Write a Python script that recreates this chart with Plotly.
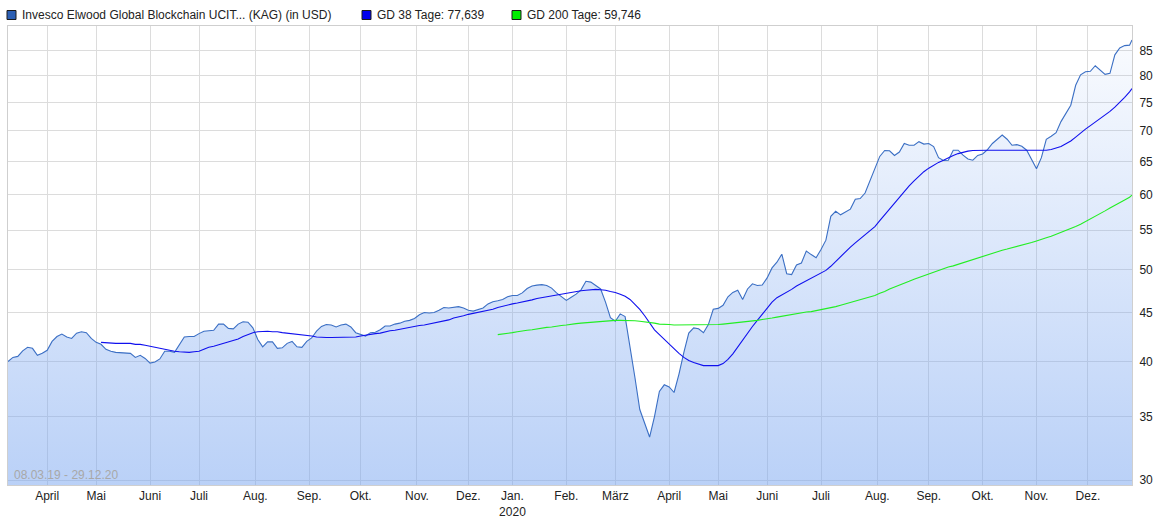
import math
import pandas as pd
import plotly.graph_objects as go

START = "2019-03-08"
END = "2020-12-29"
# exchange holidays (no prices on those days)
HOLIDAYS = ["2019-04-19", "2019-04-22", "2019-05-01", "2019-12-24", "2019-12-25",
            "2019-12-26", "2019-12-31", "2020-01-01", "2020-04-10", "2020-04-13",
            "2020-05-01", "2020-12-24", "2020-12-25"]

TRADING_DAYS = pd.bdate_range(START, END, freq="C", holidays=HOLIDAYS)
# one value read every second trading day, plus the last day
DATES = TRADING_DAYS[::2].append(TRADING_DAYS[-1:])

PRICE = [
    40.0, 40.4, 40.5, 41.05, 41.4, 41.3, 40.6, 40.8, 41.1, 42.0,
    42.5, 42.75, 42.45, 42.3, 42.85, 43.0, 42.9, 42.3, 41.9, 41.7,
    41.2, 41.0, 40.9, 40.85, 40.8, 40.8, 40.4, 40.6, 40.3, 39.85,
    39.95, 40.25, 41.0, 41.0, 40.9, 41.7, 42.45, 42.5, 42.5, 42.8,
    43.05, 43.1, 43.15, 43.8, 43.8, 43.35, 43.3, 43.8, 44.05, 44.0,
    43.4, 42.2, 41.45, 41.95, 41.95, 41.3, 41.35, 41.8, 42.0, 41.45,
    41.4, 42.0, 42.35, 43.05, 43.55, 43.75, 43.7, 43.5, 43.7, 43.8,
    43.5, 42.9, 42.7, 42.55, 42.9, 42.95, 43.2, 43.6, 43.6, 43.8,
    43.9, 44.1, 44.2, 44.4, 44.8, 45.05, 45.0, 45.05, 45.3, 45.6,
    45.55, 45.6, 45.7, 45.55, 45.3, 45.2, 45.35, 45.55, 46.0, 46.25,
    46.35, 46.5, 46.8, 46.95, 46.95, 47.25, 47.75, 48.05, 48.15, 48.2,
    48.1, 47.8, 47.25, 46.85, 46.4, 46.75, 47.1, 47.6, 48.6, 48.5,
    48.1, 47.7, 46.2, 44.5, 44.1, 44.9, 44.6, 41.2, 38.5, 35.6,
    34.5, 33.3, 35.0, 37.2, 37.8, 37.6, 37.1, 38.8, 40.9, 42.85,
    43.4, 43.3, 42.9, 43.75, 45.4, 45.5, 45.85, 46.8, 47.3, 47.55,
    46.5, 47.7, 48.3, 48.1, 48.15, 49.0, 50.2, 50.9, 51.9, 49.5,
    49.4, 50.55, 50.8, 52.3, 51.85, 51.45, 52.5, 53.7, 56.9, 57.6,
    57.1, 57.5, 57.9, 59.3, 59.4, 60.2, 62.0, 64.0, 65.8, 66.75,
    66.7, 65.95, 66.5, 67.9, 67.6, 67.6, 68.2, 67.8, 67.9, 67.4,
    65.6, 65.15, 65.2, 66.8, 66.8, 66.0, 65.4, 65.2, 65.95, 66.2,
    66.9, 67.9, 68.6, 69.3, 68.6, 67.6, 67.7, 67.45, 66.8, 65.4,
    63.85, 65.6, 68.6, 69.1, 69.7, 71.6, 73.0, 74.5, 78.2, 80.2,
    80.8, 80.9, 82.0, 81.1, 80.3, 80.5, 84.2, 85.6, 86.1, 86.2,
    87.3,
]

GD38 = [None] * 19 + [
    41.9,
    41.85, 41.8, 41.8, 41.8, 41.8, 41.8, 41.7, 41.7, 41.6, 41.5,
    41.35, 41.25, 41.15, 41.05, 41.0, 40.95, 40.9, 40.9, 40.95, 41.0,
    41.2, 41.4, 41.5, 41.65, 41.8, 41.9, 42.05, 42.25, 42.5, 42.7,
    42.9, 43.0, 43.05, 43.05, 43.0, 43.0, 42.9, 42.85, 42.8, 42.7,
    42.65, 42.6, 42.55, 42.45, 42.4, 42.4, 42.4, 42.4, 42.4, 42.4,
    42.4, 42.45, 42.55, 42.65, 42.7, 42.8, 42.85, 43.0, 43.1, 43.15,
    43.25, 43.4, 43.5, 43.55, 43.65, 43.7, 43.8, 43.9, 44.0, 44.1,
    44.25, 44.45, 44.55, 44.7, 44.85, 44.95, 45.05, 45.2, 45.3, 45.4,
    45.6, 45.75, 45.9, 46.0, 46.1, 46.2, 46.3, 46.45, 46.6, 46.7,
    46.8, 46.95, 47.05, 47.15, 47.25, 47.35, 47.45, 47.5, 47.55, 47.6,
    47.65, 47.6, 47.55, 47.4, 47.3, 47.1, 46.85, 46.5, 46.0, 45.4,
    44.7, 43.9, 43.2, 42.7, 42.2, 41.7, 41.2, 40.8, 40.4, 40.1,
    39.9, 39.75, 39.6, 39.6, 39.6, 39.6, 39.8, 40.2, 40.75, 41.45,
    42.15, 42.8, 43.55, 44.2, 44.9, 45.6, 46.2, 46.7, 47.0, 47.3,
    47.65, 48.05, 48.35, 48.65, 49.0, 49.3, 49.6, 49.9, 50.4, 51.0,
    51.65, 52.25, 52.8, 53.35, 53.9, 54.5, 54.95, 55.5, 56.3, 57.1,
    57.95, 58.75, 59.6, 60.45, 61.25, 62.0, 62.7, 63.4, 63.95, 64.45,
    64.85, 65.2, 65.6, 65.95, 66.25, 66.5, 66.65, 66.75, 66.8, 66.8,
    66.8, 66.8, 66.8, 66.8, 66.8, 66.8, 66.8, 66.8, 66.8, 66.75,
    66.7, 66.7, 66.8, 66.9, 67.1, 67.4, 67.85, 68.3, 68.95, 69.65,
    70.3, 70.9, 71.5, 72.1, 72.75, 73.4, 74.15, 75.0, 75.95, 76.95,
    77.6,
]

GD200 = [None] * 100 + [
    42.7, 42.75, 42.85, 42.9, 43.0, 43.1, 43.15, 43.2, 43.3, 43.35,
    43.45, 43.5, 43.6, 43.65, 43.7, 43.8, 43.85, 43.9, 43.95, 44.0,
    44.05, 44.1, 44.1, 44.15, 44.2, 44.2, 44.2, 44.2, 44.15, 44.1,
    44.05, 44.0, 43.9, 43.8, 43.8, 43.75, 43.7, 43.7, 43.7, 43.7,
    43.7, 43.7, 43.7, 43.7, 43.7, 43.75, 43.8, 43.85, 43.9, 43.95,
    44.0, 44.1, 44.15, 44.2, 44.3, 44.35, 44.45, 44.55, 44.65, 44.75,
    44.8, 44.9, 45.0, 45.1, 45.15, 45.25, 45.35, 45.45, 45.6, 45.7,
    45.85, 46.0, 46.15, 46.3, 46.45, 46.6, 46.75, 46.95, 47.2, 47.4,
    47.7, 47.9, 48.15, 48.35, 48.6, 48.85, 49.05, 49.3, 49.5, 49.75,
    49.95, 50.1, 50.3, 50.45, 50.65, 50.8, 51.0, 51.25, 51.45, 51.65,
    51.8, 52.0, 52.2, 52.4, 52.55, 52.7, 52.9, 53.05, 53.25, 53.4,
    53.6, 53.75, 54.0, 54.2, 54.45, 54.65, 54.95, 55.2, 55.5, 55.8,
    56.15, 56.5, 56.85, 57.25, 57.65, 58.05, 58.4, 58.8, 59.2, 59.6,
    59.9,
]

MONTH_LABELS = ["April", "Mai", "Juni", "Juli", "Aug.", "Sep.", "Okt.", "Nov.", "Dez.",
                "Jan.<br>2020", "Feb.", "März", "April", "Mai", "Juni", "Juli", "Aug.",
                "Sep.", "Okt.", "Nov.", "Dez."]
# first trading day of every month (skipping the partial first month)
_days = pd.Series(TRADING_DAYS, index=TRADING_DAYS)
MONTH_TICKS = list(_days.groupby(TRADING_DAYS.to_period("M")).min().iloc[1:])

Y_TICKS = [30, 35, 40, 45, 50, 55, 60, 65, 70, 75, 80, 85]
Y_RANGE = [29.64, 90.3]

LEGEND_NAMES = ["Invesco Elwood Global Blockchain UCIT... (KAG) (in USD)",
                "GD 38 Tage: 77,639",
                "GD 200 Tage: 59,746"]
LEGEND_COLORS = ["#2c5fb4", "#0000ee", "#00ee00"]
PERIOD_TEXT = "08.03.19 - 29.12.20"

FONT = "Liberation Sans, Arial, sans-serif"

W, H = 1172, 519
ML, MR, MT, MB = 8, 40, 26, 34
PW, PH = W - ML - MR, H - MT - MB


def paper_x(px):
    return (px - ML) / PW


def paper_y(py):
    return (H - MB - py) / PH


fig = go.Figure()

fig.add_trace(go.Scatter(
    x=DATES, y=PRICE, mode="lines",
    line=dict(color="#3b6fc4", width=1.1),
    fill="tozeroy",
    fillgradient=dict(type="vertical", start=Y_RANGE[0], stop=Y_RANGE[1],
                      colorscale=[[0, "rgba(122,166,240,0.52)"], [1, "rgba(122,166,240,0.03)"]]),
    showlegend=False, hoverinfo="skip",
))
fig.add_trace(go.Scatter(
    x=DATES, y=GD38, mode="lines", line=dict(color="#1010ee", width=1.1),
    showlegend=False, hoverinfo="skip",
))
fig.add_trace(go.Scatter(
    x=DATES, y=GD200, mode="lines", line=dict(color="#22ee22", width=1.1),
    showlegend=False, hoverinfo="skip",
))

# legend drawn as squares + text above the plot area
LEGEND_X = [7, 362, 512]
for lx, name, col in zip(LEGEND_X, LEGEND_NAMES, LEGEND_COLORS):
    fig.add_shape(type="rect", xref="paper", yref="paper",
                  x0=paper_x(lx), x1=paper_x(lx + 9), y0=paper_y(10.5), y1=paper_y(19.5),
                  fillcolor=col, line=dict(color="#1a1a1a", width=1))
    fig.add_annotation(text=name, xref="paper", yref="paper",
                       x=paper_x(lx + 13), y=paper_y(15), xanchor="left", yanchor="middle",
                       showarrow=False, font=dict(family=FONT, size=12, color="#222222"))

fig.add_annotation(
    text=PERIOD_TEXT, xref="paper", yref="paper", x=0, y=0,
    xanchor="left", yanchor="bottom", xshift=4, yshift=1, showarrow=False,
    font=dict(family=FONT, size=12, color="#a8a8a8"),
)

fig.update_layout(
    width=W, height=H,
    margin=dict(l=ML, r=MR, t=MT, b=MB, autoexpand=False),
    paper_bgcolor="white", plot_bgcolor="white",
    font=dict(family=FONT, size=12, color="#222222"),
    showlegend=False,
    xaxis=dict(
        type="date", range=[START, END],
        rangebreaks=[dict(bounds=["sat", "mon"]), dict(values=HOLIDAYS)],
        tickvals=MONTH_TICKS, ticktext=MONTH_LABELS, tickangle=0,
        showgrid=True, gridcolor="#dcdcdc", gridwidth=1,
        showline=True, linecolor="#cfcfcf", linewidth=1, mirror=True,
        ticks="",
        tickfont=dict(family=FONT, size=12, color="#222222"),
        zeroline=False, fixedrange=True,
    ),
    yaxis=dict(
        type="log", side="right",
        range=[math.log10(Y_RANGE[0]), math.log10(Y_RANGE[1])],
        tickvals=Y_TICKS, ticktext=[str(v) for v in Y_TICKS],
        showgrid=True, gridcolor="#dcdcdc", gridwidth=1,
        showline=True, linecolor="#cfcfcf", linewidth=1, mirror=True,
        ticks="", ticklabelstandoff=4,
        tickfont=dict(family=FONT, size=12, color="#222222"),
        zeroline=False, fixedrange=True,
    ),
)

fig.write_html("out.html")
